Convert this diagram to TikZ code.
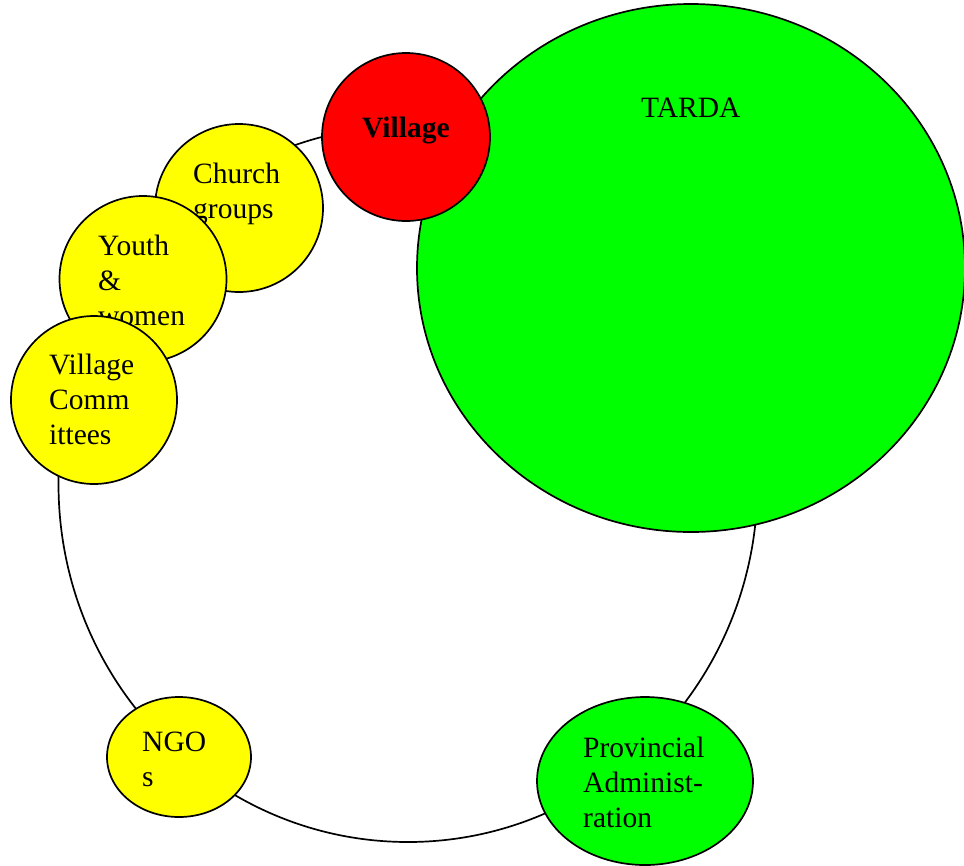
\documentclass[tikz,border=0pt]{standalone}
\usepackage{fontspec}
\setmainfont{Liberation Serif}
\usepackage{xcolor}
\usepackage{tikz}
\usetikzlibrary{positioning,shapes.geometric}

\definecolor{orggreen}{RGB}{0,255,0}
\definecolor{orgyellow}{RGB}{255,255,0}
\definecolor{orgred}{RGB}{255,0,0}

\begin{document}
\begin{tikzpicture}[x=1pt, y=-1pt,
    blob/.style={draw=black, ellipse, line width=1.7pt, inner sep=0pt, outer sep=0pt},
    lbl/.style={anchor=base west, inner sep=0pt, align=left,
                font=\fontsize{29.5}{34.6}\selectfont}]
    \useasboundingbox (0,0) rectangle (964,865);

    \coordinate (RING) at (408, 484);
    \coordinate (TD) at (691, 268);
    \coordinate (VL) at (406, 137);
    \coordinate (CG) at (239, 208);
    \coordinate (YW) at (143, 279);
    \coordinate (VC) at (94, 400);
    \coordinate (NG) at (179, 757);
    \coordinate (PA) at (645, 781);

    \node [blob, fill=white, minimum width=699pt, minimum height=716pt] (ring) at (RING) {};

    \node [blob, fill=orggreen, minimum width=548pt, minimum height=528pt] (tarda) at (TD) {};
    \node [lbl] (tardaT) at (641, 117) {TARDA};

    \node [blob, fill=orgred, minimum width=168pt, minimum height=168pt] (village) at (VL) {};
    \node [lbl, font=\fontsize{29.5}{34.6}\selectfont\bfseries] (villageT) at (362, 137) {Village};

    \node [blob, fill=orgyellow, minimum width=168pt, minimum height=168pt] (church) at (CG) {};
    \node [lbl] (churchT) at (193, 218) {Church\\groups};

    \node [blob, fill=orgyellow, minimum width=167pt, minimum height=166pt] (youth) at (YW) {};
    \node [lbl] (youthT) at (98, 325) {Youth\\\&\\women};

    \node [blob, fill=orgyellow, minimum width=166pt, minimum height=168pt] (vcomm) at (VC) {};
    \node [lbl] (vcommT) at (49, 444) {Village\\Comm\\ittees};

    \node [blob, fill=orgyellow, minimum width=144pt, minimum height=120pt] (ngos) at (NG) {};
    \node [lbl] (ngosT) at (142, 786) {NGO\\s};

    \node [blob, fill=orggreen, minimum width=216pt, minimum height=168pt] (prov) at (PA) {};
    \node [lbl] (provT) at (583, 827) {Provincial\\Administ-\\ration};
\end{tikzpicture}
\end{document}
